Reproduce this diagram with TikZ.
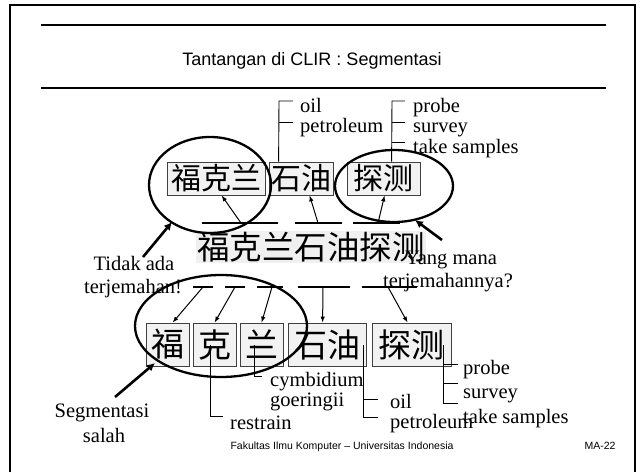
\documentclass[tikz,border=0pt]{standalone}
\usepackage{fontspec}
\setmainfont{Liberation Serif}
\newfontfamily\sansf{Liberation Sans}
\newfontfamily\cjk{Noto Sans CJK SC}
\usetikzlibrary{arrows.meta,calc}
\begin{document}
\begin{tikzpicture}[x=1pt,y=-1pt,
  lbl/.style={font=\fontsize{20.5}{20.5}\selectfont,inner sep=0pt,anchor=base west},
  lblc/.style={font=\fontsize{20.5}{20.5}\selectfont,inner sep=0pt,anchor=base},
  topbox/.style={draw=black!75,line width=0.8pt,fill=gray!10,inner sep=0pt,minimum height=33pt,font=\cjk\fontsize{30}{30}\selectfont},
  botbox/.style={draw=black!75,line width=0.8pt,fill=gray!10,inner sep=0pt,minimum height=43pt,font=\cjk\fontsize{33}{33}\selectfont},
  seg/.style={line width=1.8pt},
  thin/.style={line width=1pt,-{Latex[length=6pt,width=4.5pt]}},
  thick/.style={line width=2.6pt,-{Latex[length=8pt,width=8pt]}},
  brk/.style={line width=0.9pt},
  oval/.style={line width=2.3pt}]
\useasboundingbox (0,0) rectangle (640,472);
% frame and rules
\draw[line width=2.6pt] (10,472) -- (10,5) -- (635,5) -- (635,472);
\draw[line width=2.4pt] (41,25) -- (606,25);
\draw[line width=2.4pt] (41,88) -- (606,88);
\node[font=\sansf\fontsize{18}{18}\selectfont,anchor=base,inner sep=0pt] (title) at (312,65) {Tantangan di CLIR : Segmentasi};
% top boxes
\node[topbox,minimum width=98pt] (b1) at (216,178.5) {福克兰};
\node[topbox,minimum width=64pt] (b2) at (301,178.5) {石油};
\node[topbox,minimum width=73pt] (b3) at (383.5,178.5) {探测};
% middle text
\node[fill=gray!12,inner sep=1pt,font=\cjk\fontsize{32.5}{32.5}\selectfont] (mid) at (311,247) {福克兰石油探测};
% top segment lines
\coordinate (s1a) at (202,223); \coordinate (s1b) at (278,223); \coordinate (s1m) at (241,223);
\coordinate (s2a) at (295,223); \coordinate (s2b) at (342,223); \coordinate (s2m) at (318,223);
\coordinate (s3a) at (353,223); \coordinate (s3b) at (400,223); \coordinate (s3m) at (378,223);
\draw[seg] (s1a) -- (s1b);
\draw[seg] (s2a) -- (s2b);
\draw[seg] (s3a) -- (s3b);
\draw[thin] (s1m) -- ($(b1.south west)+(55,0)$);
\draw[thin] (s2m) -- ($(b2.south west)+(41,0)$);
\draw[thin] (s3m) -- ($(b3.south west)+(38,0)$);
% top brackets
\draw[brk] ($(b2.north west)+(10,0)$) -- (279,101) -- (293,101);
\draw[brk] (279,122) -- (293,122);
\node[lbl] (oil1) at (300,112) {oil};
\node[lbl] (pet1) at (300,132.5) {petroleum};
\draw[brk] ($(b3.north west)+(45,0)$) -- (392,101) -- (405,101);
\draw[brk] (392,122) -- (405,122);
\draw[brk] (392,142) -- (405,142);
\node[lbl] (prb1) at (413,112) {probe};
\node[lbl] (sur1) at (413,132.5) {survey};
\node[lbl] (tak1) at (413,153) {take samples};
% top ovals
\draw[oval] (210,185) ellipse [x radius=61,y radius=48];
\draw[oval] (394,186) ellipse [x radius=59,y radius=36];
% labels top
\node[lblc] (tid1) at (134,270) {Tidak ada};
\node[lblc] (tid2) at (133,293) {terjemahan!};
\coordinate (ta1) at (143,257); \coordinate (ta2) at (172,222);
\draw[thick] (ta1) -- (ta2);
\node[lblc] (yan1) at (451,264) {Yang mana};
\node[lblc] (yan2) at (448,287) {terjemahannya?};
\coordinate (ya1) at (442,240); \coordinate (ya2) at (415,220);
\draw[thick] (ya1) -- (ya2);
% bottom boxes
\node[botbox,minimum width=43pt] (c1) at (167.5,344.5) {福};
\node[botbox,minimum width=43pt] (c2) at (214.5,344.5) {克};
\node[botbox,minimum width=43pt] (c3) at (261.5,344.5) {兰};
\node[botbox,minimum width=78pt] (c4) at (327,344.5) {石油};
\node[botbox,minimum width=79pt] (c5) at (411.5,344.5) {探测};
% bottom segment lines
\coordinate (t1a) at (193,287); \coordinate (t1b) at (213,287); \coordinate (t1m) at (203,287);
\coordinate (t2a) at (225,287); \coordinate (t2b) at (245,287); \coordinate (t2m) at (235,287);
\coordinate (t3a) at (257,287); \coordinate (t3b) at (283,287); \coordinate (t3m) at (272,287);
\coordinate (t4a) at (298,287); \coordinate (t4b) at (350,287); \coordinate (t4m) at (323,287);
\coordinate (t5a) at (362,287); \coordinate (t5b) at (417,287); \coordinate (t5m) at (388,287);
\foreach \i in {1,...,5} {\draw[seg] (t\i a) -- (t\i b);}
\draw[thin] (t1m) -- ($(c1.north west)+(27,0)$);
\draw[thin] (t2m) -- ($(c2.north west)+(22,0)$);
\draw[thin] (t3m) -- ($(c3.north west)+(22,0)$);
\draw[thin] (t4m) -- ($(c4.north west)+(35,0)$);
\draw[thin] (t5m) -- ($(c5.north west)+(36,0)$);
% bottom oval
\draw[oval] (221,326) ellipse [x radius=86,y radius=51];
% bottom brackets
\draw[brk] (210,345) -- (210,416) -- (223,416);
\node[lbl] (res) at (230,429) {restrain};
\draw[brk] (254,345) -- (254,376) -- (262,376);
\node[lbl] (cym) at (270,386) {cymbidium};
\node[lbl] (goe) at (270,406.5) {goeringii};
\draw[brk] (363,345) -- (363,417) -- (378,417);
\draw[brk] (363,399) -- (378,399);
\node[lbl] (oil2) at (390,408) {oil};
\node[lbl] (pet2) at (390,428.5) {petroleum};
\draw[brk] (443,345) -- (443,403) -- (458,403);
\draw[brk] (443,364) -- (458,364);
\draw[brk] (443,383) -- (458,383);
\node[lbl] (prb2) at (463,374) {probe};
\node[lbl] (sur2) at (463,398) {survey};
\node[lbl] (tak2) at (463,423) {take samples};
% segmentasi salah
\node[lblc] (seg1) at (102,417) {Segmentasi};
\node[lblc] (seg2) at (104,442) {salah};
\coordinate (sa1) at (115,397); \coordinate (sa2) at (155,363);
\draw[thick] (sa1) -- (sa2);
% footer
\node[font=\sansf\fontsize{10.5}{10.5}\selectfont,anchor=base,inner sep=0pt] (foot) at (342,449) {Fakultas Ilmu Komputer – Universitas Indonesia};
\node[font=\sansf\fontsize{10.5}{10.5}\selectfont,anchor=base,inner sep=0pt] (ma) at (600,449) {MA-22};
\end{tikzpicture}
\end{document}
